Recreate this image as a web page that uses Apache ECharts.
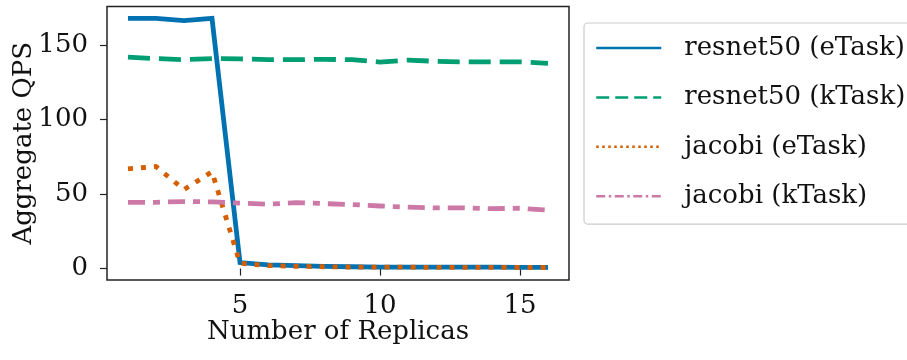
<!DOCTYPE html>
<html>
<head>
<meta charset="utf-8">
<script src="https://cdn.jsdelivr.net/npm/echarts@6/dist/echarts.min.js"></script>
<style>html,body{margin:0;padding:0;background:#fff}#c{width:907px;height:360px}</style>
</head>
<body>
<div id="c"></div>
<script>
const replicas = [1,2,3,4,5,6,7,8,9,10,11,12,13,14,15,16];
const resnetETask = [168,168,166.5,168,4,2.5,2,1.5,1.2,1,1,1,0.9,0.9,0.8,0.8];
const resnetKTask = [142,141,140.3,141,140.8,140.3,140.3,140.5,140.3,138.7,140,139.2,138.8,138.8,138.8,137.8];
const jacobiETask = [67,68.5,53,65,3.5,2,1.5,1.2,1,0.9,0.9,0.8,0.8,0.8,0.7,0.7];
const jacobiKTask = [44.5,44.5,45,44.8,43.9,43.2,44.3,43.6,43,42,41.2,40.7,40.7,40.2,40.5,39.2];
const seriesNames = ['resnet50 (eTask)','resnet50 (kTask)','jacobi (eTask)','jacobi (kTask)'];
const xTicks = [5,10,15];
const yTicks = [0,50,100,150];

const FONT = 'DejaVu Serif';
const FS = 26;
const colors = ['#0072B2','#009E73','#D55E00','#CC79A7'];
const plotDash = ['solid',[22,9],[5,8],[17,8,7,8]];
const legendDash = ['solid',[13,6],[2.5,3.5],[9,3.5,2.5,3.5]];
const pair = arr => replicas.map((x,i)=>[x,arr[i]]);
const mk = (i, arr) => ({
  name: seriesNames[i], type:'line', data: pair(arr), symbol:'none', showSymbol:false,
  lineStyle:{color:colors[i], width:4.8, type:plotDash[i], cap:'butt', join:'miter'},
  itemStyle:{color:colors[i]}, emphasis:{disabled:true}, animation:false
});

const chart = echarts.init(document.getElementById('c'), null, {renderer:'canvas'});
chart.setOption({
  animation:false,
  backgroundColor:'#fff',
  grid:{left:107, right:338, top:6.5, bottom:80, show:true, borderColor:'#222', borderWidth:1.5, backgroundColor:'transparent', containLabel:false, outerBoundsMode:'none'},
  xAxis:{
    type:'value', min:0.25, max:16.75,
    name:'Number of Replicas', nameLocation:'middle', nameGap:39, nameMoveOverlap:false,
    nameTextStyle:{fontFamily:FONT, fontSize:FS, color:'#111'},
    axisLine:{show:false},
    axisTick:{show:true, length:7, customValues:xTicks, lineStyle:{color:'#222', width:1.2}},
    axisLabel:{customValues:xTicks, fontFamily:FONT, fontSize:FS, color:'#111', margin:13},
    splitLine:{show:false}
  },
  yAxis:{
    type:'value', min:-7.7, max:176,
    name:'Aggregate QPS', nameLocation:'middle', nameGap:70, nameMoveOverlap:false,
    nameTextStyle:{fontFamily:FONT, fontSize:FS, color:'#111'},
    axisLine:{show:false},
    axisTick:{show:true, length:7, customValues:yTicks, lineStyle:{color:'#222', width:1.2}},
    axisLabel:{customValues:yTicks, fontFamily:FONT, fontSize:FS, color:'#111', margin:19},
    splitLine:{show:false}
  },
  legend:{
    left:584, top:23, orient:'vertical',
    data: seriesNames.map((n,i)=>({name:n, lineStyle:{type:legendDash[i], width:2.5, color:colors[i]}})),
    itemWidth:65, itemHeight:26, itemGap:21.4,
    padding:[11,20,14,11],
    borderColor:'#cccccc', borderWidth:1.2, borderRadius:4, backgroundColor:'#fff',
    textStyle:{fontFamily:FONT, fontSize:FS, color:'#111', padding:[0,0,0,18], lineHeight:28},
    itemStyle:{opacity:0, borderWidth:0},
    selectedMode:false
  },
  series:[
    mk(0, resnetETask),
    mk(1, resnetKTask),
    mk(2, jacobiETask),
    mk(3, jacobiKTask)
  ]
});
</script>
</body>
</html>
